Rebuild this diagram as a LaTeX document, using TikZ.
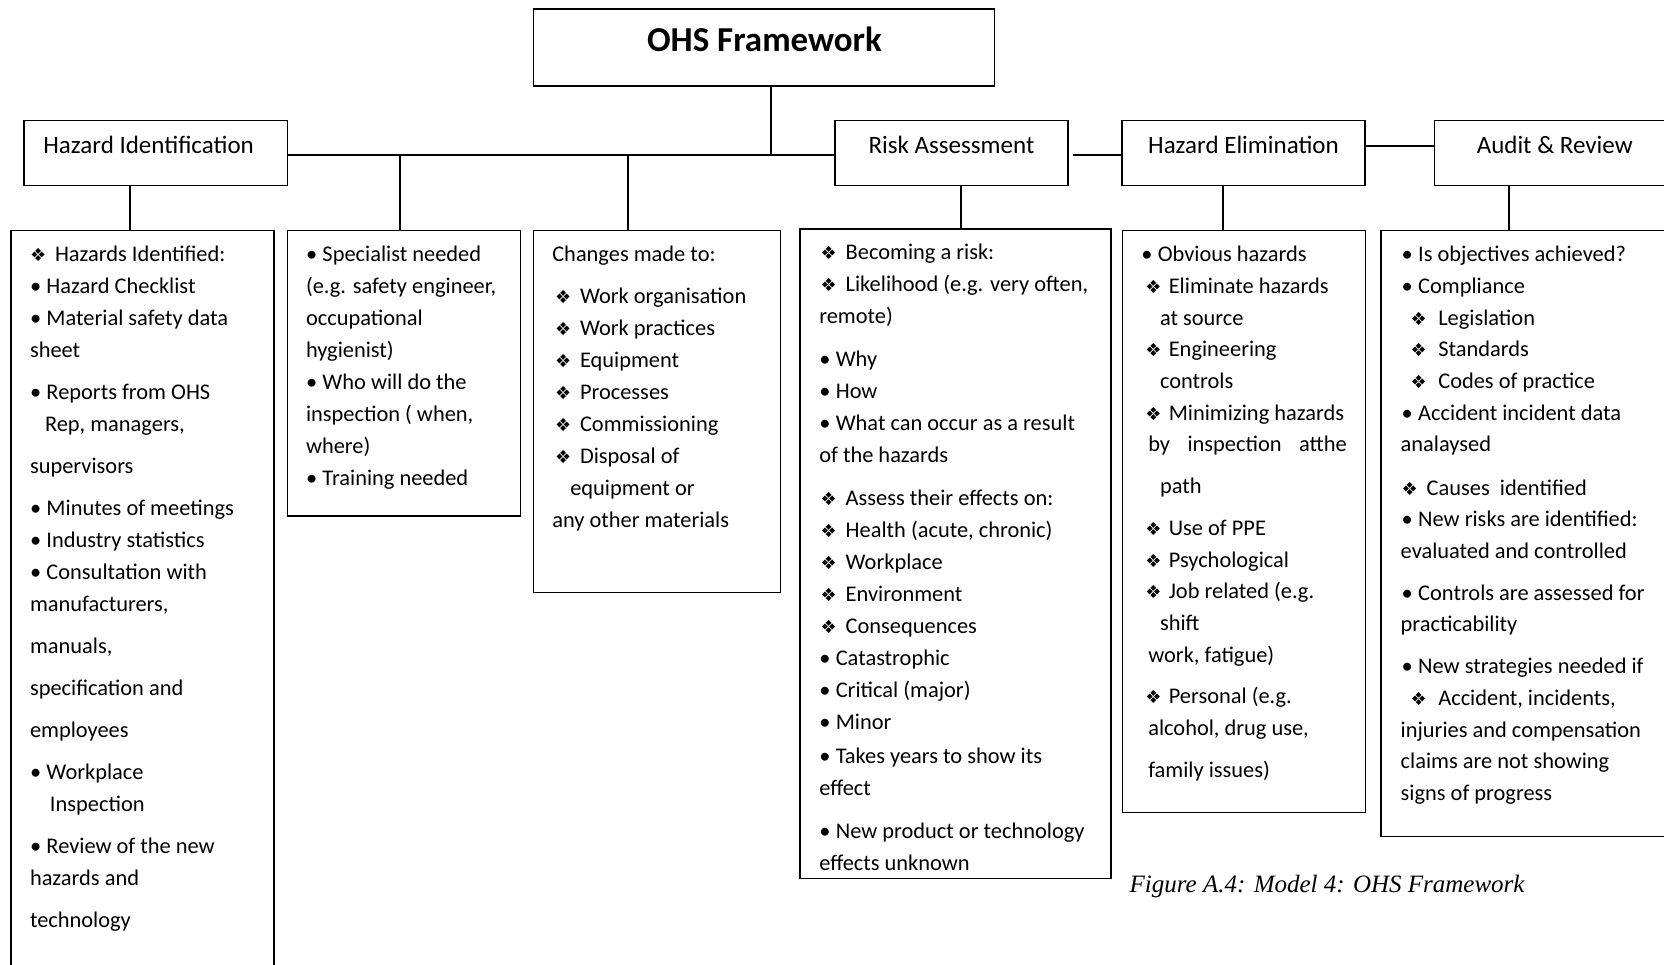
\documentclass[tikz,border=0pt]{standalone}
\usepackage{fontspec}
\setmainfont{Carlito}
\newfontfamily\symfont{DejaVu Sans}
\newfontfamily\capfont{Liberation Serif}

% list markers: a bullet, and a four-diamond mark of adjustable width
\newcommand{\itembul}{\makebox[16.5pt][l]{•}}
\newcommand{\itemdia}[1][25pt]{\makebox[#1][l]{{\symfont\fontsize{18}{18}\selectfont ❖}}}

\begin{document}
\begin{tikzpicture}[x=1pt,y=-1pt,
  frame/.style={draw=black, line width=1.3pt, inner sep=0pt, outer sep=0pt, anchor=north west},
  link/.style={draw=black, line width=1.8pt},
  body/.style={anchor=base west, inner sep=0pt, outer sep=0pt, font=\fontsize{22.4}{32}\selectfont},
  bodytight/.style={body, font=\fontsize{22.4}{31.7}\selectfont},
  head/.style={anchor=base, inner sep=0pt, outer sep=0pt, font=\fontsize{25}{28}\selectfont},
]
\useasboundingbox (0,0) rectangle (1664,964);
\clip (0,0) rectangle (1664,964);

% ---------- top row ----------
\node[frame, minimum width=460.6pt, minimum height=77pt]   (ohs) at (533.8,9) {};
\node[frame, minimum width=263.6pt, minimum height=65.2pt] (hi)  at (24,120.5) {};
\node[frame, minimum width=233pt,   minimum height=65.2pt] (ra)  at (835,120.5) {};
\node[frame, minimum width=243pt,   minimum height=65.2pt] (he)  at (1122,120.5) {};
\node[frame, minimum width=260pt,   minimum height=65.2pt] (ar)  at (1434.6,120.5) {};

\node[head, font=\fontsize{35}{38}\selectfont\bfseries] (ohsT) at (764.5,51.7) {OHS Framework};
\node[head, anchor=base west] (hiT) at (43.4,153.3) {Hazard Identification};
\node[head] (raT) at (951.5,153.3) {Risk Assessment};
\node[head] (heT) at (1243.5,153.3) {Hazard Elimination};
\node[head] (arT) at (1554.7,153.3) {Audit \& Review};

% ---------- detail boxes ----------
\node[frame, minimum width=263pt,   minimum height=760pt]   (b1) at (11,230.7) {};
\node[frame, minimum width=233.2pt, minimum height=285.3pt] (b2) at (287.3,230.7) {};
\node[frame, minimum width=247pt,   minimum height=362pt]   (b3) at (533.3,230.7) {};
\node[frame, minimum width=311pt,   minimum height=649.3pt] (b4) at (800,229) {};
\node[frame, minimum width=242.6pt, minimum height=581.8pt] (b5) at (1122.7,230.7) {};
\node[frame, minimum width=300pt,   minimum height=606pt]   (b6) at (1381,230.7) {};

% ---------- connectors ----------
\coordinate (bus) at (771,155.3);
\coordinate (tap2) at (400.3,155.3);
\coordinate (tap3) at (627.7,155.3);
\coordinate (drop1) at (129.7,0);
\coordinate (drop4) at (960.7,0);
\coordinate (drop5) at (1223.3,0);
\coordinate (drop6) at (1509,0);
\coordinate (gapstart) at (1073,155.3);
\coordinate (upper) at (0,146);

\draw[link] (ohs.south -| bus) -- (bus);
\draw[link] (hi.east |- bus) -- (ra.west |- bus);
\draw[link] (tap2) -- (b2.north -| tap2);
\draw[link] (tap3) -- (b3.north -| tap3);
\draw[link] (hi.south -| drop1) -- (b1.north -| drop1);
\draw[link] (ra.south -| drop4) -- (b4.north -| drop4);
\draw[link] (he.south -| drop5) -- (b5.north -| drop5);
\draw[link] (ar.south -| drop6) -- (b6.north -| drop6);
\draw[link] (gapstart) -- (he.west |- gapstart);
\draw[link] (he.east |- upper) -- (ar.west |- upper);

% ---------- texts ----------
\node[body] (t1) at (30,261.7) {\parbox[t]{240pt}{\raggedright
\itemdia Hazards Identified:\\
\itembul Hazard Checklist\\
\itembul Material safety data\\
sheet\\[10pt]
\itembul Reports from OHS\\
\hspace*{15pt}Rep, managers,\\[10pt]
supervisors\\[10pt]
\itembul Minutes of meetings\\
\itembul Industry statistics\\
\itembul Consultation with\\
manufacturers,\\[10pt]
manuals,\\[10pt]
specification and\\[10pt]
employees\\[10pt]
\itembul Workplace\\
\hspace*{20pt}Inspection\\[10pt]
\itembul Review of the new\\
hazards and\\[10pt]
technology}};

\node[body] (t2) at (306,261.7) {\parbox[t]{210pt}{\raggedright
\itembul Specialist needed\\
(e.g. safety engineer,\\
occupational\\
hygienist)\\
\itembul Who will do the\\
inspection ( when,\\
where)\\
\itembul Training needed}};

\node[body] (t3) at (552.3,261.7) {\parbox[t]{225pt}{\raggedright
Changes made to:\\[10pt]
\hspace*{2.7pt}\itemdia Work organisation\\
\hspace*{2.7pt}\itemdia Work practices\\
\hspace*{2.7pt}\itemdia Equipment\\
\hspace*{2.7pt}\itemdia Processes\\
\hspace*{2.7pt}\itemdia Commissioning\\
\hspace*{2.7pt}\itemdia Disposal of\\
\hspace*{18pt}equipment or\\
any other materials}};

\node[body] (t4) at (819.3,259.3) {\parbox[t]{290pt}{\raggedright
\hspace*{1.4pt}\itemdia Becoming a risk:\\
\hspace*{1.4pt}\itemdia Likelihood (e.g. very often,\\
remote)\\[11pt]
\itembul Why\\
\itembul How\\
\itembul What can occur as a result\\
of the hazards\\[11pt]
\hspace*{1.4pt}\itemdia Assess their effects on:\\
\hspace*{1.4pt}\itemdia Health (acute, chronic)\\
\hspace*{1.4pt}\itemdia Workplace\\
\hspace*{1.4pt}\itemdia Environment\\
\hspace*{1.4pt}\itemdia Consequences\\
\itembul Catastrophic\\
\itembul Critical (major)\\
\itembul Minor\\[2.5pt]
\itembul Takes years to show its\\
effect\\[10.5pt]
\itembul New product or technology\\
effects unknown}};

\node[bodytight] (t5) at (1148.3,261.7) {\parbox[t]{215pt}{\raggedright
\hspace*{-7pt}\itembul Obvious hazards\\
\hspace*{-3pt}\itemdia[23.5pt]Eliminate hazards\\
\hspace*{11.7pt}at source\\
\hspace*{-3pt}\itemdia[23.5pt]Engineering\\
\hspace*{11.7pt}controls\\
\hspace*{-3pt}\itemdia[23.5pt]Minimizing hazards\\
\makebox[198.4pt][s]{by\hfill inspection\hfill atthe}\\[10pt]
\hspace*{11.7pt}path\\[10pt]
\hspace*{-3pt}\itemdia[23.5pt]Use of PPE\\
\hspace*{-3pt}\itemdia[23.5pt]Psychological\\
\hspace*{-3pt}\itemdia[23.5pt]Job related (e.g.\\
\hspace*{11.7pt}shift\\
work, fatigue)\\[10pt]
\hspace*{-3pt}\itemdia[23.5pt]Personal (e.g.\\
alcohol, drug use,\\[10pt]
family issues)}};

\node[bodytight] (t6) at (1400.7,261.7) {\parbox[t]{255pt}{\raggedright
\hspace*{1pt}\itembul Is objectives achieved?\\
\hspace*{1pt}\itembul Compliance\\
\hspace*{10pt}\itemdia[27.6pt]Legislation\\
\hspace*{10pt}\itemdia[27.6pt]Standards\\
\hspace*{10pt}\itemdia[27.6pt]Codes of practice\\
\hspace*{1pt}\itembul Accident incident data\\
analaysed\\[11.5pt]
\hspace*{1pt}\itemdia Causes\ \ identified\\
\hspace*{1pt}\itembul New risks are identified:\\
evaluated and controlled\\[10pt]
\hspace*{1pt}\itembul Controls are assessed for\\
practicability\\[10pt]
\hspace*{1pt}\itembul New strategies needed if\\
\hspace*{10pt}\itemdia[27.6pt]Accident, incidents,\\
injuries and compensation\\
claims are not showing\\
signs of progress}};

\node[anchor=base west, inner sep=0pt, font=\capfont\itshape\fontsize{25}{30}\selectfont] (caption) at (1129.5,892.7) {Figure A.4: Model 4: OHS Framework};
\end{tikzpicture}
\end{document}
